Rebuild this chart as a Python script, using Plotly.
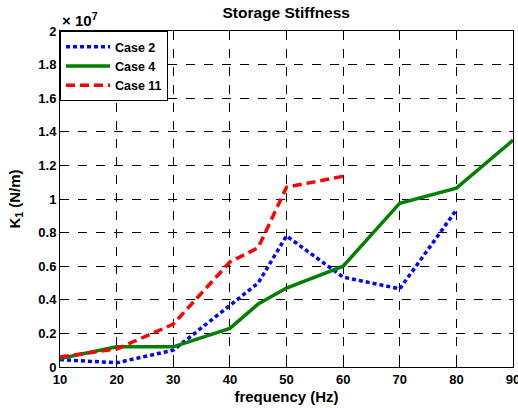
import plotly.graph_objects as go

# Data (K1 in units of 1e7 N/m)
freq_case2 = [10, 20, 30, 40, 45, 50, 60, 70, 80]
k1_case2 = [0.044, 0.025, 0.10, 0.37, 0.50, 0.78, 0.535, 0.465, 0.935]

freq_case4 = [10, 20, 30, 40, 45, 50, 60, 70, 80, 90]
k1_case4 = [0.05, 0.12, 0.12, 0.23, 0.375, 0.47, 0.60, 0.975, 1.065, 1.35]

freq_case11 = [10, 20, 30, 40, 45, 50, 60]
k1_case11 = [0.06, 0.107, 0.255, 0.625, 0.71, 1.07, 1.135]

x_ticks = [10, 20, 30, 40, 50, 60, 70, 80, 90]
y_ticks = [0, 0.2, 0.4, 0.6, 0.8, 1.0, 1.2, 1.4, 1.6, 1.8, 2.0]
y_tick_text = ["0", "0.2", "0.4", "0.6", "0.8", "1", "1.2", "1.4", "1.6", "1.8", "2"]

FONT = "Liberation Sans, Arial, sans-serif"

fig = go.Figure()
fig.add_trace(go.Scatter(x=freq_case2, y=k1_case2, mode="lines", name="Case 2",
                         line=dict(color="#0000ff", width=3.5, dash="4px,3px")))
fig.add_trace(go.Scatter(x=freq_case4, y=k1_case4, mode="lines", name="Case 4",
                         line=dict(color="#008000", width=3.5)))
fig.add_trace(go.Scatter(x=freq_case11, y=k1_case11, mode="lines", name="Case 11",
                         line=dict(color="#ff0000", width=3.5, dash="9px,5px")))

axis_common = dict(
    showline=True, linecolor="black", linewidth=1, mirror="ticks",
    ticks="inside", ticklen=4, tickcolor="black",
    showgrid=True, gridcolor="black", gridwidth=1, griddash="dash",
    zeroline=False, ticklabeloverflow="allow", automargin=False,
    tickfont=dict(family=FONT, size=13, color="black", weight="bold"),
)

fig.update_layout(
    width=518, height=408,
    margin=dict(l=60, r=5, t=31, b=41, autoexpand=False),
    paper_bgcolor="white", plot_bgcolor="white",
    font=dict(family=FONT, color="black"),
    title=dict(text="<b>Storage Stiffness</b>", x=(59.5 + 513) / 2 / 518, xanchor="center",
               y=1 - 13 / 408, yanchor="middle",
               font=dict(family=FONT, size=15.5, color="black")),
    xaxis=dict(range=[10, 90], tickvals=x_ticks,
               title=dict(text="<b>frequency (Hz)</b>", standoff=5,
                          font=dict(family=FONT, size=15, color="black")),
               **axis_common),
    yaxis=dict(range=[0, 2], tickvals=y_ticks, ticktext=y_tick_text,
               title=dict(text="<b>K<sub>1</sub> (N/m)</b>", standoff=14,
                          font=dict(family=FONT, size=15, color="black")),
               **axis_common),
    legend=dict(x=0, y=1, xanchor="left", yanchor="top",
                bgcolor="white", bordercolor="black", borderwidth=1,
                font=dict(family=FONT, size=12.5, color="black", weight="bold"),
                tracegroupgap=0, itemwidth=44),
    showlegend=True,
)

fig.add_annotation(text="× 10<sup>7</sup>", xref="paper", yref="paper",
                   x=0, y=1, xanchor="left", yanchor="bottom", yshift=0, showarrow=False,
                   font=dict(family=FONT, size=15, color="black", weight="bold"))

fig.write_html("out.html")
